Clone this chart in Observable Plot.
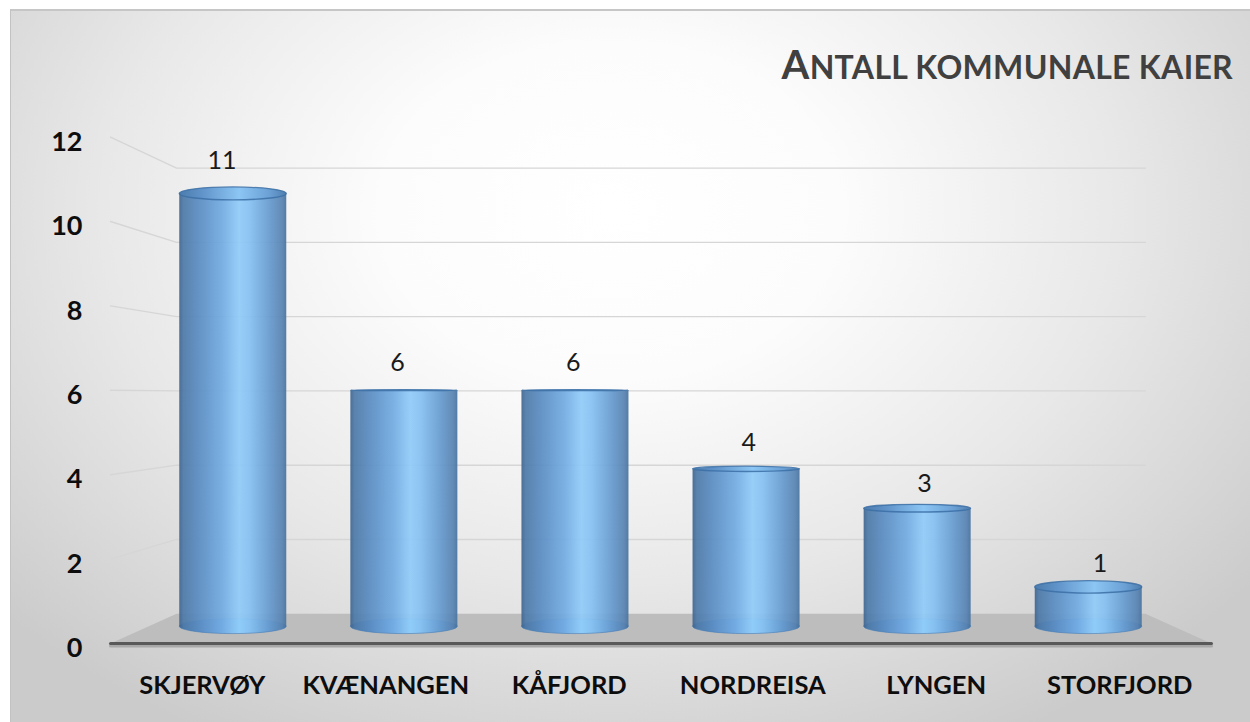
<!DOCTYPE html>
<html>
<head>
<meta charset="utf-8">
<script src="https://cdn.jsdelivr.net/npm/d3@7"></script>
<script src="https://cdn.jsdelivr.net/npm/@observablehq/plot@0.6"></script>
<style>
  html, body { margin: 0; padding: 0; background: #ffffff; }
  #wrap { position: relative; width: 1250px; height: 722px; overflow: hidden; }
  #bg {
    position: absolute; left: 10px; top: 9px; width: 1240px; height: 713px;
    border-left: 1px solid #c2c2c2; border-top: 2px solid #c6c6c6; box-sizing: border-box;
    background: radial-gradient(ellipse 820px 600px at 600px 200px, #ffffff 0%, #fcfcfc 28%, #e8e8e8 62%, #cbcbcb 100%);
  }
  #chart { position: absolute; left: 0; top: 0; }
  #title {
    position: absolute; right: 17px; top: 44px; font-family: Lato, sans-serif; font-weight: 700;
    font-size: 32px; color: #404040; line-height: 1; white-space: nowrap; letter-spacing: 0.3px;
  }
  #title .big { font-size: 40px; }
</style>
</head>
<body>
<div id="wrap">
  <div id="bg"></div>
  <div id="chart"></div>
  <div id="title"><span class="big">A</span>NTALL KOMMUNALE KAIER</div>
</div>
<script>
// ---- data ----
const categories = ["SKJERVØY", "KVÆNANGEN", "KÅFJORD", "NORDREISA", "LYNGEN", "STORFJORD"];
const values = [11, 6, 6, 4, 3, 1];
const yTicks = [0, 2, 4, 6, 8, 10, 12];
const gridValues = [2, 4, 6, 8, 10, 12];

// ---- perspective helpers (data space, vanishing point about the centre) ----
const VX = 2.5, VY = 5.88;
const S_BACK = 0.88, S_CYL = 0.9324, S_LAB = 0.957;
const HW = 0.3127;
const P = (x, v, s) => ({x: VX + s * (x - VX), y: VY + s * (v - VY)});
const ell = v => 0.028 * Math.abs(v - VY) + 0.01;

const rows = categories.map((c, i) => ({c, i, v: values[i]}));

const floorPts = [
  P(-0.5, 0, 1), P(5.5, 0, 1), P(5.5, 0, S_BACK), P(-0.5, 0, S_BACK)
];
const gridPts = gridValues.flatMap(v => [
  {...P(-0.5, v, 1), g: v},
  {...P(-0.5, v, S_BACK), g: v},
  {...P(5.5, v, S_BACK), g: v}
]);
const edgePts = [P(-0.5, 0, 1), P(5.5, 0, 1)];

const chart = Plot.plot({
  width: 1250,
  height: 722,
  marginLeft: 110, marginRight: 39, marginTop: 136.6, marginBottom: 79,
  style: {background: "transparent", fontFamily: "Lato, sans-serif", overflow: "visible"},
  x: {type: "linear", domain: [-0.5, 5.5], range: [110, 1211], axis: null},
  y: {type: "linear", domain: [0, 12], range: [643, 136.6], axis: null},
  marks: [
    // floor
    Plot.line(floorPts, {x: "x", y: "y", fill: "#bdbdbd", stroke: "none"}),
    // gridlines (side wall slant + back wall)
    Plot.line(gridPts, {x: "x", y: "y", z: "g", stroke: "#d6d6d6", strokeWidth: 1.4}),
    // floor front edge with soft shadow
    Plot.line(edgePts, {x: "x", y: "y", stroke: "#a8a8a8", strokeWidth: 3, dy: 2.5}),
    Plot.line(edgePts, {x: "x", y: "y", stroke: "#595959", strokeWidth: 3}),
    // cylinder bottoms
    Plot.rect(rows, {
      x1: d => P(d.i - HW, 0, S_CYL).x, x2: d => P(d.i + HW, 0, S_CYL).x,
      y1: d => P(d.i, 0, S_CYL).y - ell(0), y2: d => P(d.i, 0, S_CYL).y + ell(0),
      fill: "url(#cylGrad)", stroke: "#4a7fb5", strokeOpacity: 0.6, strokeWidth: 1, rx: 300, ry: 300
    }),
    // cylinder bodies
    Plot.rect(rows, {
      x1: d => P(d.i - HW, 0, S_CYL).x, x2: d => P(d.i + HW, 0, S_CYL).x,
      y1: d => P(d.i, 0, S_CYL).y, y2: d => P(d.i, d.v, S_CYL).y,
      fill: "url(#cylGrad)", fillOpacity: 0.93
    }),
    // cylinder tops
    Plot.rect(rows, {
      x1: d => P(d.i - HW, d.v, S_CYL).x, x2: d => P(d.i + HW, d.v, S_CYL).x,
      y1: d => P(d.i, d.v, S_CYL).y - ell(d.v), y2: d => P(d.i, d.v, S_CYL).y + ell(d.v),
      fill: "url(#cylTop)", stroke: "#3b6ea5", strokeWidth: 1.3, strokeOpacity: 0.85, rx: 300, ry: 300
    }),
    // value labels
    Plot.text(rows, {
      x: d => P(d.i, d.v, S_LAB).x, y: d => P(d.i, d.v, S_LAB).y,
      text: d => String(d.v), dy: -28, fontSize: 25, fill: "#1a1a1a", lineAnchor: "middle"
    }),
    // y axis labels (front plane)
    Plot.text(yTicks, {
      x: -0.5, y: d => d, text: d => String(d), textAnchor: "end", dx: -28, dy: 5,
      fontSize: 27, fontWeight: "bold", fill: "#0d0d0d", lineAnchor: "middle"
    }),
    // category labels (front plane)
    Plot.text(rows, {
      x: "i", y: 0, text: "c", dy: 42, fontSize: 25.5, fontWeight: "bold", fill: "#0d0d0d", lineAnchor: "middle"
    })
  ]
});

const defs = `
<defs>
  <linearGradient id="cylGrad" x1="0" x2="1" y1="0" y2="0">
    <stop offset="0" stop-color="#3f6690"/>
    <stop offset="0.04" stop-color="#4e7aa8"/>
    <stop offset="0.18" stop-color="#5a8cc2"/>
    <stop offset="0.40" stop-color="#72abe2"/>
    <stop offset="0.56" stop-color="#90ccf9"/>
    <stop offset="0.66" stop-color="#85c0f1"/>
    <stop offset="0.85" stop-color="#6599cd"/>
    <stop offset="0.96" stop-color="#5883b2"/>
    <stop offset="1" stop-color="#46729f"/>
  </linearGradient>
  <linearGradient id="cylTop" x1="0" x2="1" y1="0" y2="0">
    <stop offset="0" stop-color="#4d7cad"/>
    <stop offset="0.2" stop-color="#5f92c8"/>
    <stop offset="0.56" stop-color="#8cc6f4"/>
    <stop offset="0.85" stop-color="#6a9fd4"/>
    <stop offset="1" stop-color="#4f7eae"/>
  </linearGradient>
</defs>`;
chart.insertAdjacentHTML("afterbegin", defs);
document.getElementById("chart").appendChild(chart);
</script>
</body>
</html>
